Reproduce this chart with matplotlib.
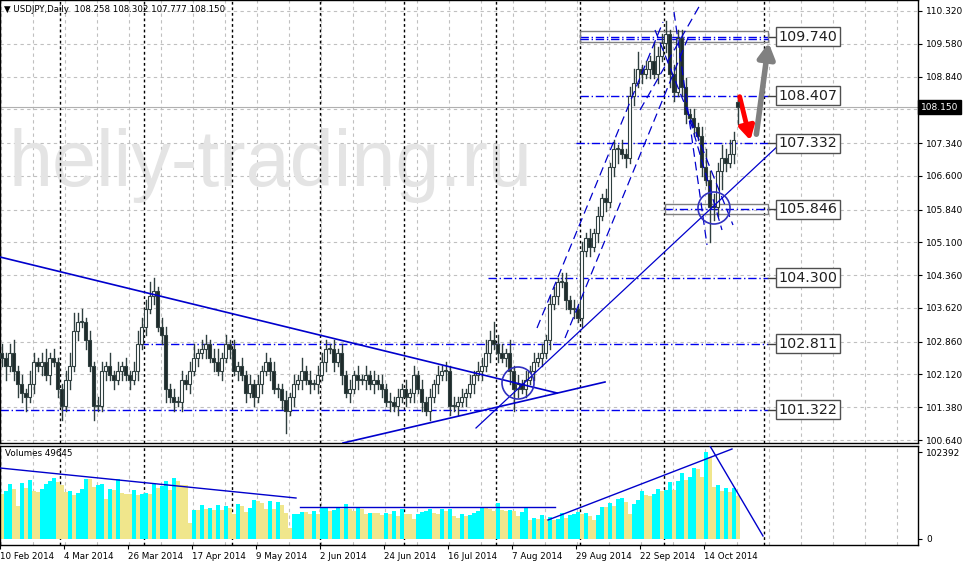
import matplotlib
matplotlib.use('Agg')
import matplotlib.pyplot as plt
from matplotlib.patches import Rectangle, Ellipse
import numpy as np

# ---- data ----
closes = [102.5, 102.3, 102.6, 102.2, 101.9, 101.7, 101.6, 101.9, 102.4, 102.3, 102.4, 102.1, 102.5, 102.4, 101.8,
          101.4, 102.0, 102.3, 103.1, 103.3, 103.3, 102.9, 102.3, 101.4, 101.4,
          102.2, 102.3, 102.1, 102.0, 102.2, 102.3, 102.1, 102.0, 102.2, 102.8, 103.2, 103.6,
          103.9, 104.0, 103.2, 103.0,
          101.8, 101.6, 101.5, 101.5, 102.0, 101.9, 102.2, 102.5, 102.6, 102.7,
          102.8, 102.5, 102.4, 102.2, 102.5, 102.8, 102.7, 102.2, 102.3, 102.1,
          101.7, 101.9, 101.6, 101.9, 102.2, 102.4, 102.2, 101.8, 101.8, 101.55,
          101.3, 101.6, 101.9, 102.0, 102.2, 102.0, 101.9, 101.9, 102.1, 102.4,
          102.7, 102.7, 102.4, 102.6, 102.1, 101.7, 101.8, 102.1, 102.0, 102.0,
          102.1, 101.9, 102.0, 101.9, 101.8, 101.5, 101.5, 101.4, 101.6, 101.8,
          101.6, 101.7, 102.1, 101.8, 101.5, 101.3, 101.6, 101.9, 102.1, 102.2,
          102.2, 101.4, 101.4, 101.5, 101.6, 101.7, 101.9, 102.1, 102.2, 102.3,
          102.6, 102.9, 102.8, 102.6, 102.5, 102.6, 102.2, 101.8, 101.9, 101.8,
          102.0, 102.2, 102.4, 102.5, 102.6, 102.9, 103.7, 103.9, 104.2, 104.2,
          103.8, 103.6, 103.6, 103.4,
          104.9, 105.2, 105.0, 105.3, 105.7, 106.1, 106.0, 106.8, 107.2, 107.2, 107.1, 107.0, 108.4, 108.7, 109.0, 108.9,
          109.0, 109.2, 108.9, 109.3, 109.6, 109.8, 108.9, 108.5, 109.7, 108.6,
          108.0, 107.9, 107.7, 107.5, 106.8, 106.5, 105.9, 105.9, 106.7, 107.0, 106.9, 107.1, 107.4, 108.15]

upper_shadow = [0.2, 0.1, 0.2, 0.3, 0.1, 0.2, 0.1, 0.3, 0.2, 0.1, 0.2, 0.3, 0.1, 0.2, 0.1,
                0.1, 0.2, 0.3, 0.4, 0.2, 0.3, 0.1, 0.2, 0.1, 0.2,
                0.2, 0.1, 0.3, 0.1, 0.2, 0.1, 0.2, 0.1, 0.2, 0.3, 0.2, 0.2,
                0.3, 0.3, 0.1, 0.2,
                0.2, 0.1, 0.2, 0.1, 0.2, 0.1, 0.2, 0.3, 0.1, 0.2,
                0.2, 0.1, 0.2, 0.3, 0.1, 0.2, 0.1, 0.2, 0.1, 0.2,
                0.1, 0.2, 0.1, 0.2, 0.1, 0.2, 0.1, 0.2, 0.1, 0.1,
                0.2, 0.1, 0.2, 0.1, 0.3, 0.1, 0.2, 0.1, 0.2, 0.2,
                0.2, 0.1, 0.2, 0.1, 0.2, 0.1, 0.2, 0.1, 0.2, 0.1,
                0.2, 0.1, 0.2, 0.1, 0.2, 0.1, 0.2, 0.1, 0.2, 0.1,
                0.2, 0.1, 0.2, 0.1, 0.2, 0.1, 0.2, 0.1, 0.2, 0.1,
                0.2, 0.1, 0.2, 0.1, 0.2, 0.1, 0.2, 0.1, 0.2, 0.2,
                0.3, 0.2, 0.4, 0.2, 0.2, 0.1, 0.3, 0.1, 0.2, 0.1,
                0.2, 0.1, 0.2, 0.1, 0.2, 0.1, 0.2, 0.2, 0.1, 0.2,
                0.2, 0.1, 0.2, 0.1,
                0.2, 0.1, 0.2, 0.1, 0.2, 0.1, 0.2, 0.1, 0.2, 0.1, 0.2, 0.1, 0.2, 0.3, 0.4, 0.1,
                0.2, 0.1, 0.4, 0.2, 0.2, 0.3, 0.1, 0.2, 0.2, 0.2,
                0.2, 0.1, 0.2, 0.1, 0.2, 0.4, 0.2, 0.3, 0.2, 0.3, 0.2, 0.3, 0.2, 0.15]

lower_shadow = [0.2, 0.3, 0.1, 0.2, 0.3, 0.2, 0.3, 0.1, 0.2, 0.1, 0.2, 0.1, 0.2, 0.1, 0.2,
                0.3, 0.1, 0.2, 0.1, 0.2, 0.1, 0.2, 0.1, 0.3, 0.1,
                0.1, 0.2, 0.1, 0.2, 0.1, 0.2, 0.1, 0.2, 0.1, 0.2, 0.1, 0.2,
                0.1, 0.2, 0.1, 0.2,
                0.3, 0.1, 0.2, 0.1, 0.2, 0.1, 0.2, 0.1, 0.2, 0.1,
                0.2, 0.1, 0.2, 0.1, 0.2, 0.1, 0.2, 0.1, 0.2, 0.1,
                0.2, 0.1, 0.2, 0.1, 0.2, 0.1, 0.2, 0.1, 0.2, 0.2,
                0.5, 0.1, 0.2, 0.1, 0.2, 0.1, 0.2, 0.1, 0.2, 0.1,
                0.2, 0.1, 0.2, 0.1, 0.2, 0.1, 0.2, 0.1, 0.2, 0.1,
                0.2, 0.1, 0.2, 0.1, 0.2, 0.1, 0.2, 0.1, 0.2, 0.1,
                0.2, 0.1, 0.2, 0.1, 0.2, 0.1, 0.2, 0.1, 0.2, 0.1,
                0.2, 0.2, 0.1, 0.2, 0.1, 0.2, 0.1, 0.2, 0.1, 0.2,
                0.1, 0.2, 0.1, 0.2, 0.1, 0.2, 0.3, 0.5, 0.2, 0.1,
                0.2, 0.1, 0.2, 0.1, 0.2, 0.1, 0.2, 0.1, 0.2, 0.1,
                0.2, 0.1, 0.2, 0.1,
                0.2, 0.1, 0.2, 0.1, 0.2, 0.1, 0.2, 0.1, 0.2, 0.3, 0.1, 0.2, 0.1, 0.2, 0.1, 0.2,
                0.1, 0.2, 0.1, 0.2, 0.1, 0.2, 0.3, 0.2, 0.1, 0.2,
                0.2, 0.1, 0.2, 0.1, 0.2, 0.1, 0.8, 0.3, 0.2, 0.4, 0.2, 0.1, 0.2, 0.37]

# volumes in thousands of ticks
volumes = [53, 57, 65, 59, 39, 66, 60, 69, 56, 55, 59, 65, 68, 72, 67, 63, 55, 57, 52, 54,
           59, 71, 71, 61, 64, 65, 47, 59, 58, 71, 54, 53, 53, 58, 52, 53, 54, 53, 65, 60,
           62, 68, 58, 72, 68, 64, 63, 19, 34, 34, 40, 35, 37, 34, 40, 34, 39, 36, 30, 41,
           39, 32, 36, 46, 45, 42, 35, 45, 35, 44, 40, 31, 13, 29, 30, 32, 32, 30, 33, 30,
           36, 37, 33, 34, 38, 35, 41, 35, 33, 36, 35, 30, 31, 31, 31, 28, 31, 29, 33, 27,
           35, 30, 30, 24, 30, 32, 33, 35, 31, 29, 35, 33, 35, 27, 25, 30, 27, 28, 31, 33,
           38, 38, 35, 33, 42, 34, 33, 34, 33, 27, 32, 36, 22, 25, 24, 28, 23, 26, 22, 23,
           31, 25, 28, 30, 32, 30, 31, 27, 22, 28, 38, 38, 42, 39, 47, 48, 44, 30, 41, 46,
           57, 52, 51, 53, 59, 56, 58, 67, 58, 68, 78, 70, 73, 83, 82, 73, 102, 97, 61, 64,
           57, 60, 55, 60, 51]

date_labels = ['10 Feb 2014', '4 Mar 2014', '26 Mar 2014', '17 Apr 2014', '9 May 2014',
               '2 Jun 2014', '24 Jun 2014', '16 Jul 2014', '7 Aug 2014', '29 Aug 2014',
               '22 Sep 2014', '14 Oct 2014']
date_bars = [0, 16, 32, 48, 64, 80, 96, 112, 128, 144, 160, 176]

price_ticks = [110.320, 109.580, 108.840, 108.100, 107.340, 106.600, 105.840,
               105.100, 104.360, 103.620, 102.860, 102.120, 101.380, 100.640]
levels = [109.740, 108.407, 107.332, 105.846, 104.300, 102.811, 101.322]
level_start_bar = [145, 145, 144, 166, 122, 35, 0]
month_bars = [15, 36, 58, 80, 101, 124, 145, 166, 191]

last_ohlc = (108.258, 108.302, 107.777, 108.150)

# ---- geometry (MT4 style, 4px per bar) ----
W, H = 967, 565
PX = 44.32           # pixels per yen
TOP = 110.568        # price at top edge of main pane
STEP = 4


def bx(i):
    return STEP * i + 1.5


def py(y):
    return TOP - y / PX


fig = plt.figure(figsize=(W / 100, H / 100), dpi=100)
ax = fig.add_axes([0, (H - 443) / H, 918 / W, 443 / H])
av = fig.add_axes([0, (H - 545) / H, 918 / W, 99 / H])

for a in (ax, av):
    a.set_xlim(0, 918)
    a.set_facecolor('white')
    for s in a.spines.values():
        s.set_color('black')
        s.set_linewidth(1)
    a.tick_params(axis='y', right=True, left=False, labelright=True, labelleft=False,
                  labelsize=6.5, length=3, pad=3)
    for x in np.arange(1, 918, 32):
        a.axvline(x, color='#c0c0c0', ls=(0, (3, 3)), lw=0.8, zorder=0)
    for m in month_bars:
        a.axvline(bx(m) - 2, color='black', ls=(0, (2, 2)), lw=1, zorder=1)

ax.set_ylim(py(443), TOP)
ax.set_xticks([])
ax.set_yticks(price_ticks)
# the 108.100 label is hidden behind the current price box, as in MT4
ax.set_yticklabels(['' if abs(p - 108.1) < 1e-6 else f'{p:.3f}' for p in price_ticks])
for p in price_ticks:
    ax.axhline(p, color='#c0c0c0', ls=(0, (3, 3)), lw=0.8, zorder=0)

# watermark
ax.text(8, py(165), 'heliy-trading.ru', fontsize=57, family='Liberation Sans',
        color='#e4e4e4', va='center', ha='left', zorder=0.5)

# candles
opens = [closes[0] + 0.1] + closes[:-1]
opens[-1] = last_ohlc[0]
for i, (o, c, us, ls) in enumerate(zip(opens, closes, upper_shadow, lower_shadow)):
    x = bx(i)
    hi, lo = max(o, c) + us, min(o, c) - ls
    ax.plot([x, x], [lo, hi], color='#2f3f3f', lw=1, zorder=3)
    fc = 'white' if c >= o else '#1f2a2a'
    bot = min(o, c)
    h = max(abs(c - o), 0.02)
    ax.add_patch(Rectangle((x - 1.5, bot), 3, h, facecolor=fc, edgecolor='#2f3f3f',
                           lw=0.8, zorder=4))

# current price line
ax.axhline(last_ohlc[3], color='#b0b0b0', lw=0.8, zorder=1)

# horizontal levels
for lv, sb in zip(levels, level_start_bar):
    ax.plot([bx(sb) - 2, 768], [lv, lv], color='#0000ee', lw=1,
            ls=(0, (6, 2, 1, 2)), zorder=2)
    ax.plot([768, 779], [lv, lv], color='#404040', lw=1, zorder=2)
    ax.text(808, lv, f'{lv:.3f}', fontsize=10.3, ha='center', va='center', color='#202020',
            bbox=dict(boxstyle='square,pad=0.18', fc='white', ec='#505050', lw=1), zorder=6)
ax.add_patch(Rectangle((580, py(42)), 188, 11 / PX, fill=False, ec='#808080', lw=1, zorder=2))
ax.plot([580, 768], [py(38.5), py(38.5)], color='#0000ee', lw=1, ls=(0, (6, 2, 1, 2)))
ax.add_patch(Rectangle((665, py(214)), 103, 10 / PX, fill=False, ec='#808080', lw=1, zorder=2))

# trend lines (pixel anchors)
trend = [((0, 257), (557, 393), 1.2), ((343, 443), (605, 382), 1.2), ((476, 428), (780, 144), 0.9)]
for (x0, y0), (x1, y1), w in trend:
    ax.plot([x0, x1], [py(y0), py(y1)], color='#0000cc', lw=w, zorder=5)
dashed = [((537, 328), (663, 22)), ((565, 338), (690, 33)), ((674, 12), (707, 245)),
          ((655, 30), (733, 225)), ((640, 110), (700, 5)), ((690, 120), (722, 230))]
for (x0, y0), (x1, y1) in dashed:
    ax.plot([x0, x1], [py(y0), py(y1)], color='#0000cc', lw=0.9, ls=(0, (7, 4)), zorder=5)
for cx, cy in [(518, 383), (714, 208)]:
    ax.add_patch(Ellipse((cx, py(cy)), 32, 32 / PX, fill=False, ec='#3030c0', lw=1.2, zorder=6))

# arrows
ax.annotate('', xy=(769, py(40)), xytext=(756, py(137)),
            arrowprops=dict(arrowstyle='-|>,head_width=0.5,head_length=0.9', color='#808080', lw=4))
ax.annotate('', xy=(751, py(143)), xytext=(739, py(94)),
            arrowprops=dict(arrowstyle='-|>,head_width=0.45,head_length=0.8', color='#ff0000', lw=3.5))

ax.text(4, py(10), '\u25bc USDJPY,Daily  108.258 108.302 107.777 108.150', fontsize=6.2,
        va='center', ha='left', color='black')
fig.text(921 / W, 1 - 107 / H, f'{last_ohlc[3]:.3f}', fontsize=6.5, color='white',
         va='center', ha='left', bbox=dict(boxstyle='square,pad=0.3', fc='black', ec='black'))

# volumes
vk = np.array(volumes) * 1000
vmax = 102392
av.set_ylim(-6 * vmax / 87, vmax + 6 * vmax / 87)
for i, v in enumerate(vk):
    col = '#00ffff' if i > 0 and v > vk[i - 1] else '#f0e68c'
    av.add_patch(Rectangle((bx(i) - 2, 0), 4.2, v, fc=col, ec='none', zorder=2))
av.set_yticks([0, vmax])
av.set_yticklabels(['0', str(vmax)])
av.set_xticks([bx(b) - 1.5 for b in date_bars])
av.set_xticklabels(date_labels, ha='left', fontsize=6.3)
av.tick_params(axis='x', length=3, pad=2)
av.text(5, vmax * 0.98, 'Volumes 49645', fontsize=6.3, va='center')
vlines = [((0, 468), (296, 498)), ((300, 507), (555, 507)), ((548, 520), (732, 449)), ((710, 446), (763, 536))]
for (x0, y0), (x1, y1) in vlines:
    av.plot([x0, x1], [(539 - y0) * vmax / 87, (539 - y1) * vmax / 87], color='#0000cc', lw=1, zorder=3)

fig.savefig('out.png', dpi=100)
